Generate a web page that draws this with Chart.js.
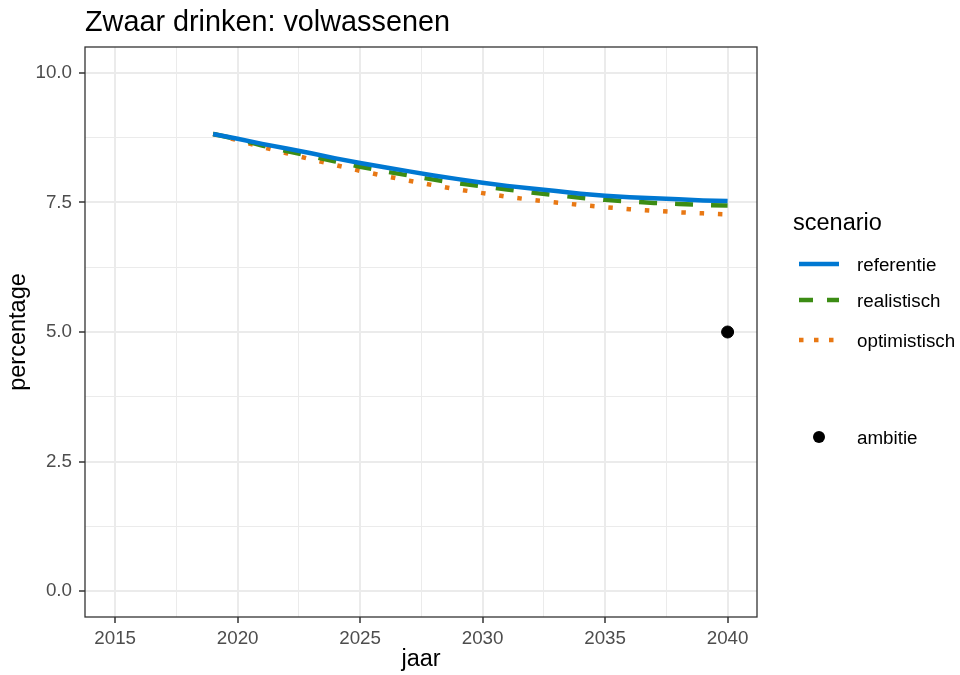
<!DOCTYPE html>
<html>
<head>
<meta charset="utf-8">
<script src="https://cdn.jsdelivr.net/npm/chart.js@4.4.1/dist/chart.umd.min.js"></script>
<style>
  html, body { margin: 0; padding: 0; background: #ffffff; }
  #wrap { width: 960px; height: 675px; }
</style>
</head>
<body>
<div id="wrap"><canvas id="chart" width="960" height="675"></canvas></div>
<script>
// ── Data ──
const years        = [2019, 2020, 2021, 2022, 2023, 2024, 2025, 2026, 2027, 2028, 2029,
                      2030, 2031, 2032, 2033, 2034, 2035, 2036, 2037, 2038, 2039, 2040];
const referentie   = [8.82, 8.73, 8.63, 8.54, 8.45, 8.35, 8.26, 8.18, 8.10, 8.02, 7.95,
                      7.88, 7.82, 7.77, 7.72, 7.67, 7.63, 7.60, 7.58, 7.56, 7.54, 7.53];
const realistisch  = [8.82, 8.72, 8.60, 8.49, 8.39, 8.29, 8.19, 8.10, 8.02, 7.94, 7.87,
                      7.81, 7.75, 7.69, 7.64, 7.59, 7.55, 7.52, 7.49, 7.47, 7.45, 7.44];
const optimistisch = [8.82, 8.70, 8.57, 8.45, 8.33, 8.22, 8.11, 8.01, 7.92, 7.83, 7.75,
                      7.68, 7.61, 7.55, 7.50, 7.45, 7.41, 7.37, 7.34, 7.31, 7.29, 7.27];
const ambitieYears  = [2040];
const ambitieValues = [5.0];

const xMajor = [2015, 2020, 2025, 2030, 2035, 2040];
const xMinor = [2017.5, 2022.5, 2027.5, 2032.5, 2037.5];
const yMajor = [0, 2.5, 5, 7.5, 10];
const yMinor = [1.25, 3.75, 6.25, 8.75];

// ── Style ──
const FONT      = "'Liberation Sans', Arial, Helvetica, sans-serif";
const C_REF     = '#0078d2';
const C_REAL    = '#3c8c14';
const C_OPT     = '#e87814';
const GRID      = '#ebebeb';
const AXIS_TXT  = '#4d4d4d';
const BORDER    = '#333333';
const LW        = 4.5;

const toXY = (xs, ys) => xs.map((x, i) => ({ x, y: ys[i] }));
const isMajor = (list, v) => list.some(m => Math.abs(m - v) < 1e-6);

// ── Panel border, title and legend ──
const decorPlugin = {
    id: 'decor',
    afterDatasetsDraw(chart) {
        const { ctx, chartArea: a } = chart;
        ctx.save();
        ctx.strokeStyle = BORDER;
        ctx.lineWidth = 1.3;
        ctx.strokeRect(a.left, a.top, a.right - a.left, a.bottom - a.top);
        ctx.restore();
    },
    afterDraw(chart) {
        const { ctx } = chart;
        ctx.save();
        ctx.fillStyle = '#000000';
        ctx.textBaseline = 'alphabetic';
        ctx.font = `28.8px ${FONT}`;
        ctx.fillText('Zwaar drinken: volwassenen', 85, 31);

        // legend title
        ctx.textBaseline = 'middle';
        ctx.font = `23.5px ${FONT}`;
        ctx.fillText('scenario', 793, 224);

        const rows = [
            { label: 'referentie',   color: C_REF,  dash: [],          y: 264 },
            { label: 'realistisch',  color: C_REAL, dash: [14, 14],    y: 300 },
            { label: 'optimistisch', color: C_OPT,  dash: [4.5, 10.5], y: 340 },
        ];
        ctx.font = `18.8px ${FONT}`;
        rows.forEach(r => {
            ctx.beginPath();
            ctx.strokeStyle = r.color;
            ctx.lineWidth = LW;
            ctx.lineCap = 'butt';
            ctx.setLineDash(r.dash);
            ctx.moveTo(799, r.y);
            ctx.lineTo(839, r.y);
            ctx.stroke();
            ctx.setLineDash([]);
            ctx.fillStyle = '#000000';
            ctx.fillText(r.label, 857, r.y + 1.5);
        });

        ctx.beginPath();
        ctx.fillStyle = '#000000';
        ctx.arc(819, 437, 6, 0, Math.PI * 2);
        ctx.fill();
        ctx.fillText('ambitie', 857, 439);
        ctx.restore();
    },
};

// ── Chart ──
const chart = new Chart(document.getElementById('chart'), {
    type: 'line',
    data: {
        datasets: [
            {
                label: 'referentie',
                data: toXY(years, referentie),
                borderColor: C_REF,
                borderWidth: LW,
                pointRadius: 0,
                fill: false,
            },
            {
                label: 'realistisch',
                data: toXY(years, realistisch),
                borderColor: C_REAL,
                borderWidth: LW,
                borderDash: [18, 18],
                borderCapStyle: 'butt',
                pointRadius: 0,
                fill: false,
            },
            {
                label: 'optimistisch',
                data: toXY(years, optimistisch),
                borderColor: C_OPT,
                borderWidth: LW,
                borderDash: [4.5, 13.8],
                borderCapStyle: 'butt',
                pointRadius: 0,
                fill: false,
            },
            {
                type: 'scatter',
                label: 'ambitie',
                data: toXY(ambitieYears, ambitieValues),
                backgroundColor: '#000000',
                borderColor: '#000000',
                pointRadius: 6,
                showLine: false,
            },
        ],
    },
    options: {
        responsive: false,
        devicePixelRatio: 1,
        animation: false,
        layout: { padding: { top: 47, right: 203, left: 0, bottom: 0 } },
        plugins: {
            legend:  { display: false },
            title:   { display: false },
            tooltip: { enabled: false },
        },
        scales: {
            x: {
                type: 'linear',
                min: 2013.77,
                max: 2041.2,
                afterBuildTicks: s => { s.ticks = [...xMajor, ...xMinor].sort((a, b) => a - b).map(v => ({ value: v })); },
                afterFit: s => { s.height = 58; },
                ticks: {
                    autoSkip: false,
                    maxRotation: 0,
                    padding: 5,
                    color: AXIS_TXT,
                    font: { family: FONT, size: 18.8 },
                    callback: v => isMajor(xMajor, v) ? String(v) : '',
                },
                grid: {
                    color: GRID,
                    lineWidth: c => isMajor(xMajor, c.tick.value) ? 2 : 1,
                    tickLength: 6,
                    tickColor: c => isMajor(xMajor, c.tick.value) ? BORDER : 'rgba(0,0,0,0)',
                    tickWidth: 1.5,
                },
                border: { display: false },
                title: {
                    display: true,
                    text: 'jaar',
                    color: '#000000',
                    font: { family: FONT, size: 23.5 },
                    padding: { top: 0, bottom: 1 },
                },
            },
            y: {
                type: 'linear',
                min: -0.5,
                max: 10.5,
                afterBuildTicks: s => { s.ticks = [...yMajor, ...yMinor].sort((a, b) => a - b).map(v => ({ value: v })); },
                afterFit: s => { s.width = 85; },
                ticks: {
                    autoSkip: false,
                    padding: 7,
                    color: AXIS_TXT,
                    font: { family: FONT, size: 18.8 },
                    callback: v => isMajor(yMajor, v) ? v.toFixed(1) : '',
                },
                grid: {
                    color: GRID,
                    lineWidth: c => isMajor(yMajor, c.tick.value) ? 2 : 1,
                    tickLength: 6,
                    tickColor: c => isMajor(yMajor, c.tick.value) ? BORDER : 'rgba(0,0,0,0)',
                    tickWidth: 1.5,
                },
                border: { display: false },
                title: {
                    display: true,
                    text: 'percentage',
                    color: '#000000',
                    font: { family: FONT, size: 23.5 },
                    padding: { top: 4, bottom: 0 },
                },
            },
        },
    },
    plugins: [decorPlugin],
});
</script>
</body>
</html>
